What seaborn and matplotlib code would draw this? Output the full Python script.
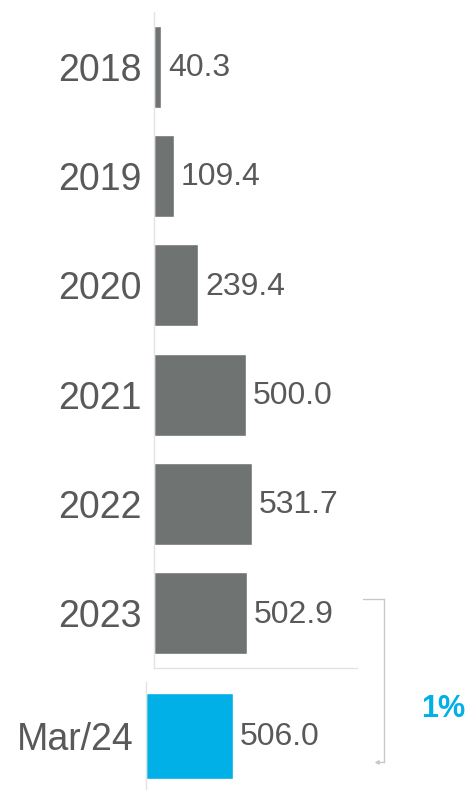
import matplotlib
matplotlib.use("Agg")
import matplotlib.pyplot as plt
import seaborn as sns
import pandas as pd
from matplotlib.lines import Line2D

sns.set_theme(style="white")
plt.rcParams['font.family'] = ['Liberation Sans', 'DejaVu Sans']

# data
years = ['2018', '2019', '2020', '2021', '2022', '2023']
year_values = [40.3, 109.4, 239.4, 500.0, 531.7, 502.9]
ytd_label = ['Mar/24']
ytd_value = [506.0]

gray = '#6f7372'
blue = '#00b0e6'
text_col = '#595959'
spine_col = '#e3e3e3'

fig = plt.figure(figsize=(4.69, 7.9), dpi=100)
ax_top = fig.add_axes([0.328, 0.1544, 0.433, 0.8306])
ax_bot = fig.add_axes([0.311, 0.0, 0.433, 0.137])

df_top = pd.DataFrame({'cat': years, 'val': year_values})
df_bot = pd.DataFrame({'cat': ytd_label, 'val': ytd_value})

sns.barplot(data=df_top, x='val', y='cat', color=gray, width=0.75,
            orient='h', ax=ax_top, saturation=1)
sns.barplot(data=df_bot, x='val', y='cat', color=blue, width=0.8,
            orient='h', ax=ax_bot, saturation=1)

ax_top.set_xlim(0, 1100)
ax_top.set_ylim(5.5, -0.5)
ax_bot.set_xlim(0, 1180)
ax_bot.set_ylim(0.5, -0.5)

for ax, vals in [(ax_top, year_values), (ax_bot, ytd_value)]:
    for i, v in enumerate(vals):
        ax.annotate(f'{v:.1f}', xy=(v, i), xytext=(5, -1), textcoords='offset points',
                    ha='left', va='center', fontsize=23, color=text_col)
    ax.set_xlabel('')
    ax.set_ylabel('')
    ax.set_xticks([])
    ax.tick_params(axis='y', length=0, pad=9, labelsize=27, labelcolor=text_col)
    for s in ['top', 'right']:
        ax.spines[s].set_visible(False)
    ax.spines['left'].set_color(spine_col)
    ax.spines['left'].set_linewidth(1)

ax_top.spines['bottom'].set_color(spine_col)
ax_top.spines['bottom'].set_linewidth(1)
ax_bot.spines['bottom'].set_visible(False)
ax_bot.patch.set_alpha(0)
ax_top.patch.set_alpha(0)

# bracket between 2023 and Mar/24
W, H = 469, 790
def fx(px):
    return px / W
def fy(py):
    return 1 - py / H

br_col = '#c8c8c8'
fig.add_artist(Line2D([fx(363), fx(384)], [fy(599), fy(599)], color=br_col, lw=1))
fig.add_artist(Line2D([fx(384), fx(384)], [fy(599), fy(762)], color=br_col, lw=1))
fig.add_artist(Line2D([fx(384), fx(377)], [fy(762), fy(762)], color=br_col, lw=1))
fig.add_artist(Line2D([fx(377)], [fy(762)], color=br_col, marker='<', markersize=2.5, lw=0))

pct = (ytd_value[0] - year_values[-1]) / year_values[-1] * 100
fig.text(fx(443), fy(709), f'{pct:.0f}%', ha='center', va='center',
         fontsize=22, fontweight='bold', color=blue)

fig.savefig('out.png', dpi=100)
